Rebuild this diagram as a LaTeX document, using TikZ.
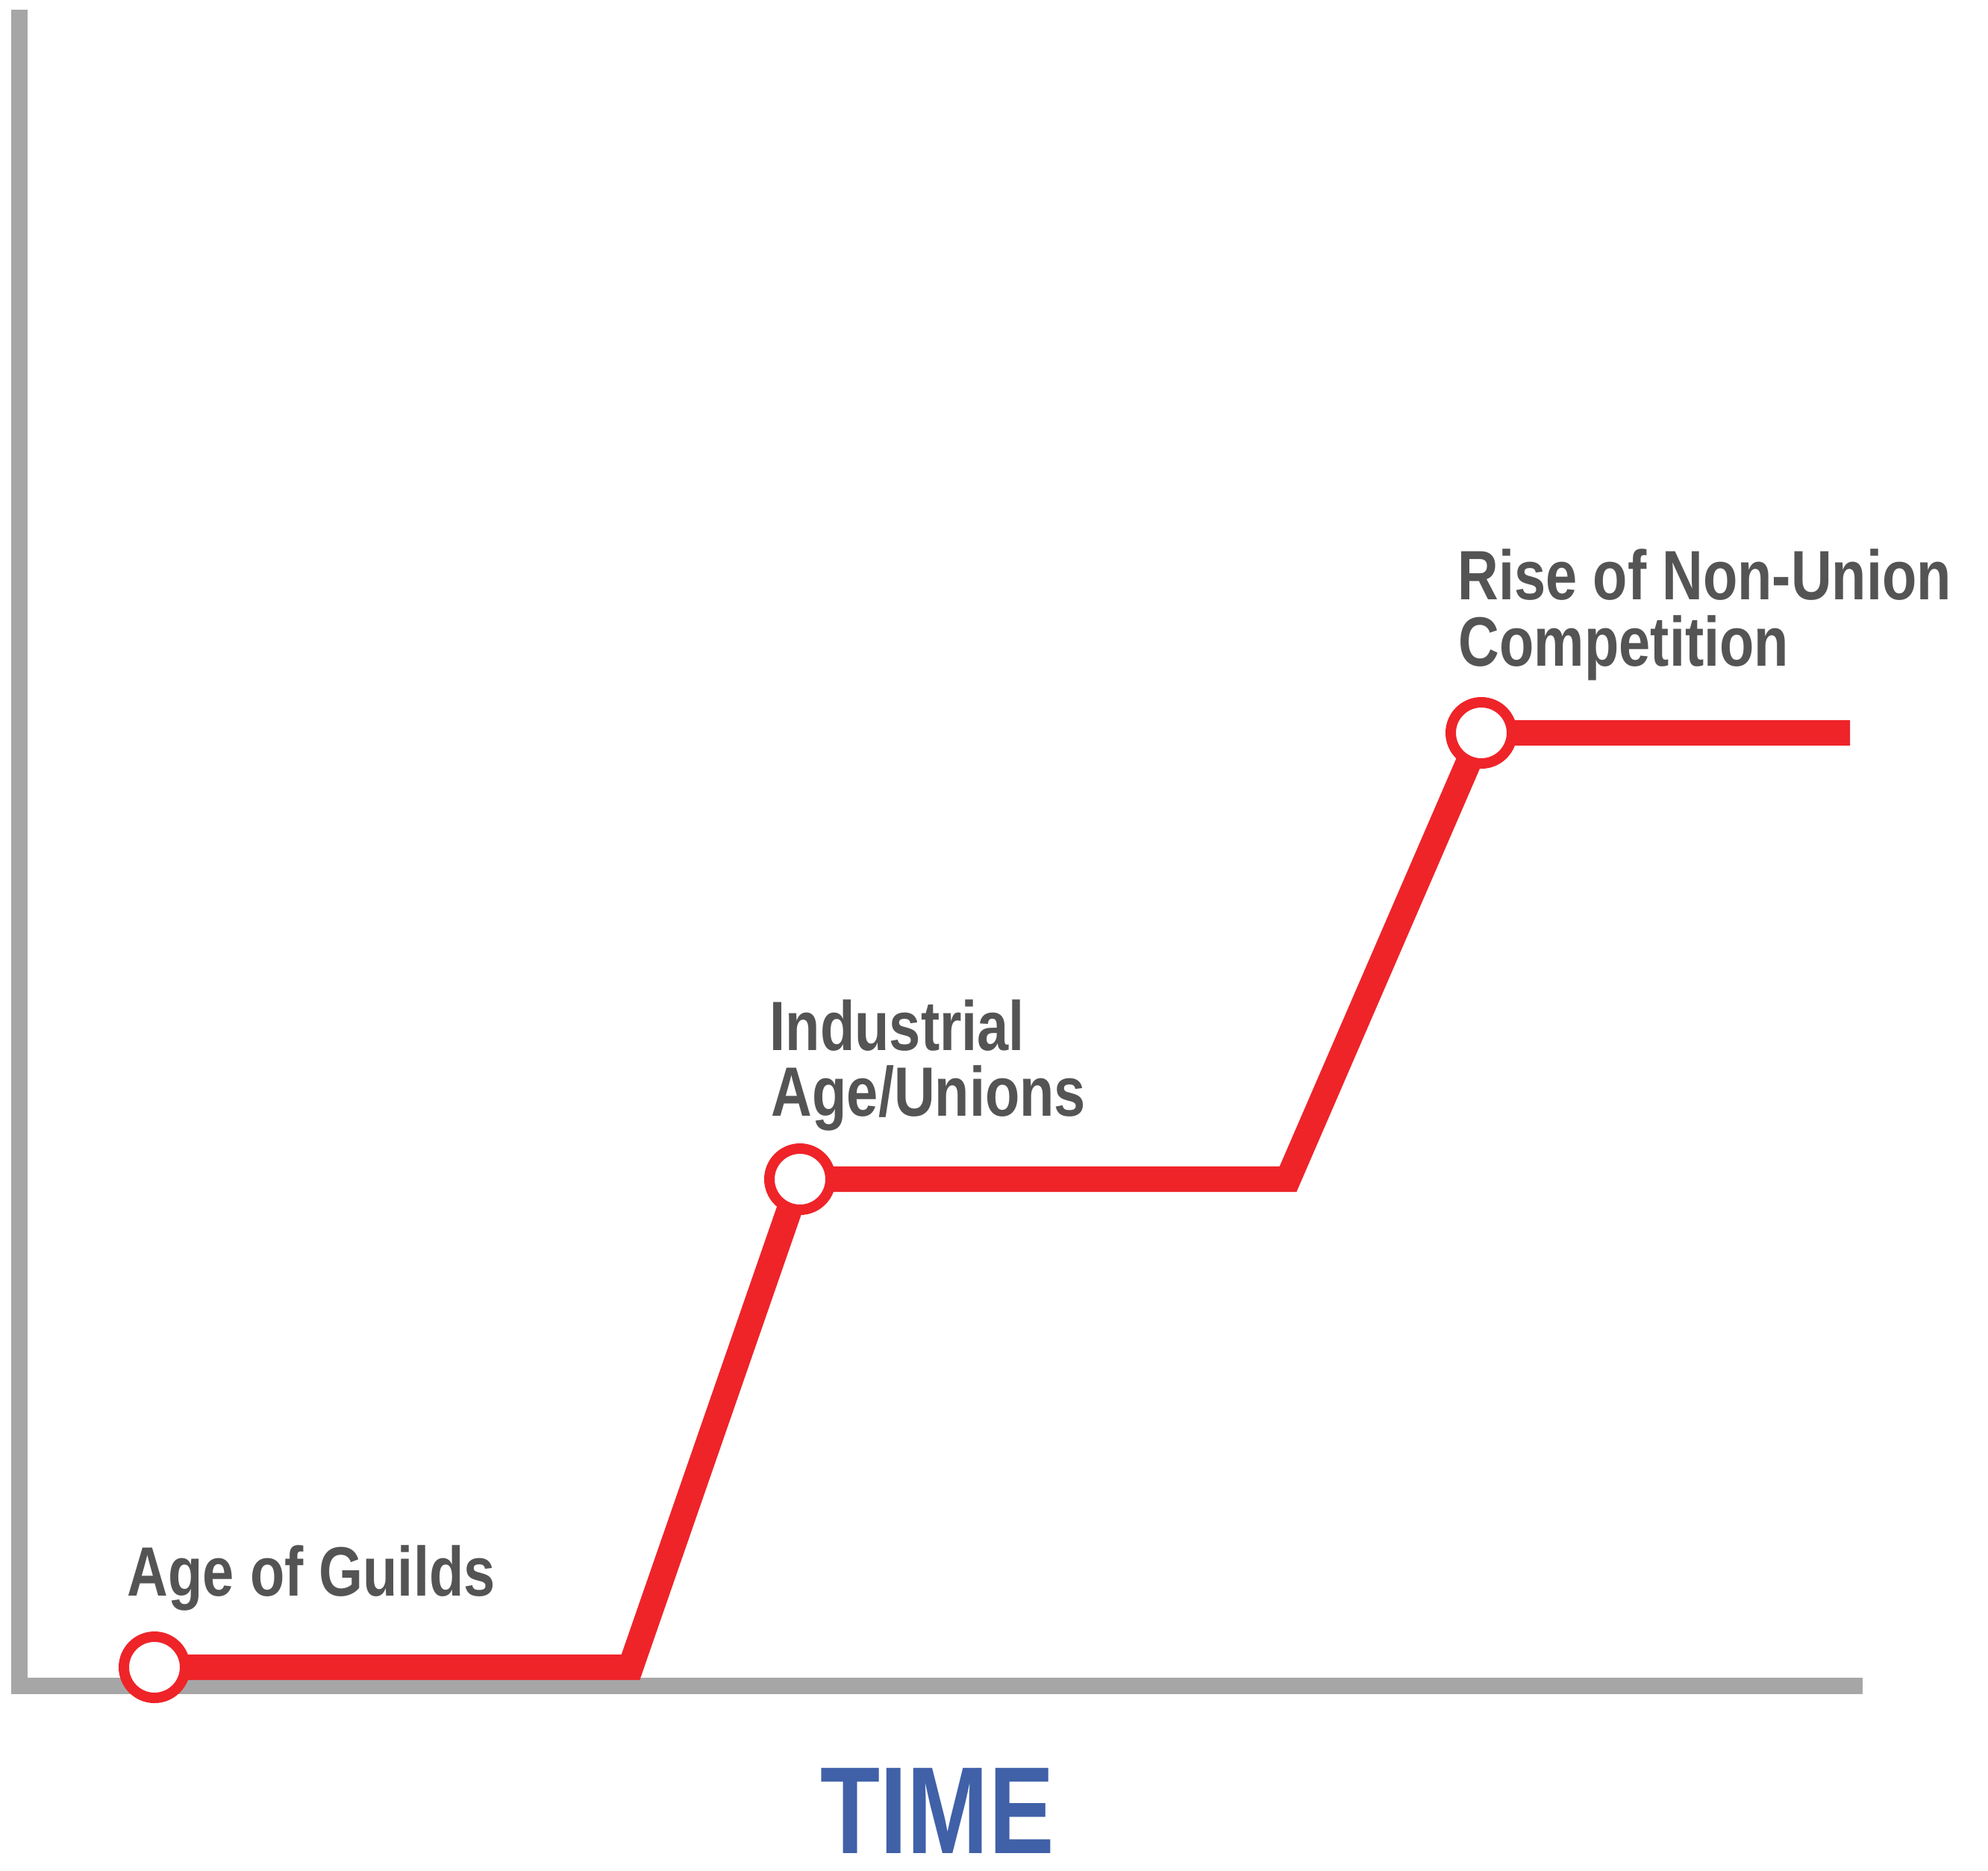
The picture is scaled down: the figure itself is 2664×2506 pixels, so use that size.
\documentclass[tikz,border=0pt]{standalone}
\usepackage{fontspec}
\newfontfamily\labfont[FakeStretch=0.81]{Liberation Sans}
\newfontfamily\timefont[FakeStretch=0.79]{Liberation Sans}
\usetikzlibrary{backgrounds}
\definecolor{axisgray}{HTML}{A6A6A6}
\definecolor{linered}{HTML}{EE2429}
\definecolor{textgray}{HTML}{545454}
\definecolor{timeblue}{HTML}{4060A8}
\begin{document}
\begin{tikzpicture}[x=0.25pt,y=-0.25pt,
  axis/.style={draw=axisgray,line width=5.5pt,line cap=butt},
  redline/.style={draw=linered,line width=8.6pt,line join=miter,line cap=butt},
  dot/.style={circle,draw=linered,fill=white,line width=3.5pt,minimum size=20.5pt,inner sep=0pt},
  lab/.style={anchor=base west,inner sep=0pt,text=textgray,font=\labfont\bfseries\fontsize{23.4}{28}\selectfont},
  timelab/.style={anchor=base,inner sep=0pt,text=timeblue,font=\timefont\bfseries\fontsize{41.5}{48}\selectfont}]
\useasboundingbox (0,0) rectangle (2664,2506);
% axes corner and ends
\coordinate (ytop) at (26,13);
\coordinate (origin) at (26,2259);
\coordinate (xend) at (2496,2259);
% milestone circles
\node[dot] (g1) at (207,2234) {};
\node[dot] (g2) at (1072,1580) {};
\node[dot] (g3) at (1985,982) {};
% bends and end of the red line
\coordinate (k1) at (845,2234);
\coordinate (k2) at (1726,1580);
\coordinate (lend) at (2479,982);
\begin{pgfonlayer}{background}
  \draw[axis] (ytop) -- (origin |- 0,2270) ;
  \draw[axis] (15,2259) -- (xend);
  \draw[redline] (g1.center) -- (k1) -- (g2.center) -- (k2) -- (g3.center) -- (lend);
\end{pgfonlayer}
% labels
\node[lab] (t1) at (170,2138) {Age of Guilds};
\node[lab] (t2a) at (1031,1407) {Industrial};
\node[lab] (t2b) at (1033,1495) {Age/Unions};
\node[lab] (t3a) at (1953,803) {Rise of Non-Union};
\node[lab] (t3b) at (1954,892) {Competition};
\node[timelab] (time) at (1256,2483) {TIME};
\end{tikzpicture}
\end{document}
